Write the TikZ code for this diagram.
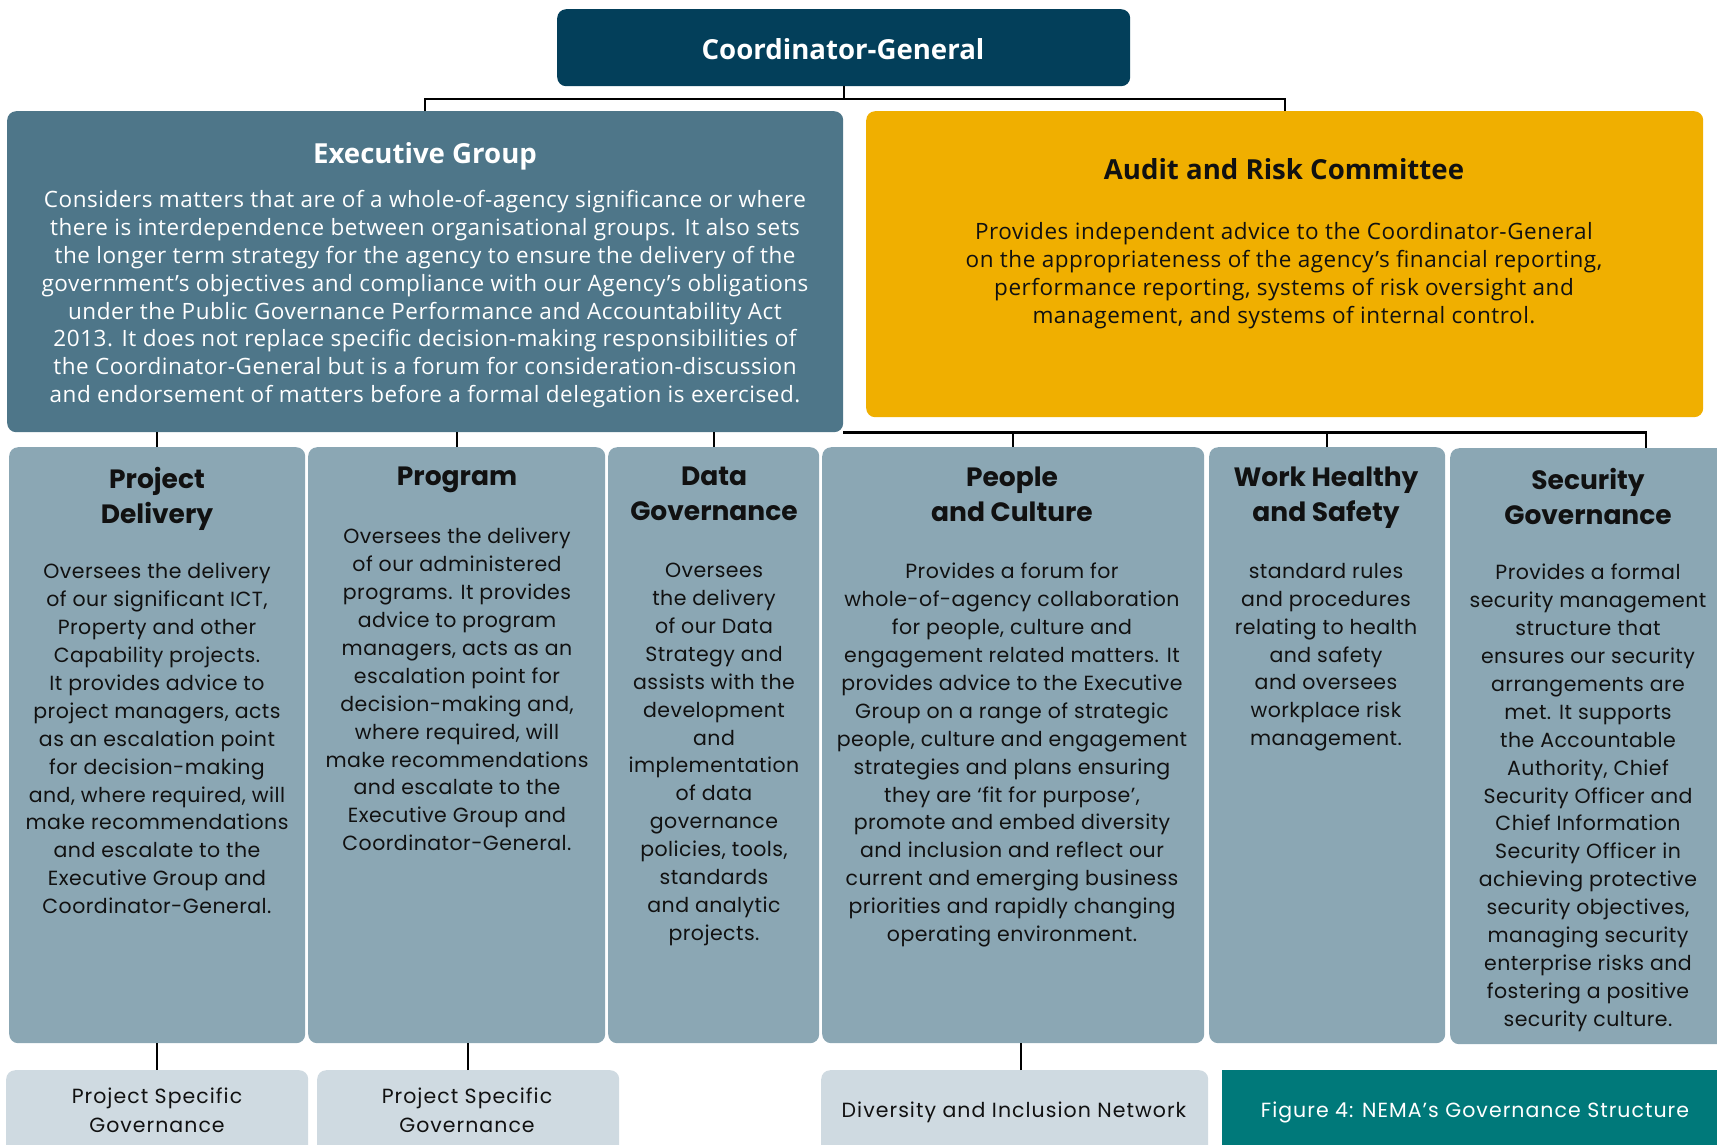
\documentclass[tikz,border=0pt]{standalone}
\usepackage{fontspec}
\newfontfamily\gw{Poppins}[LetterSpace=5]
\newfontfamily\gwb{Poppins}[LetterSpace=2.2]
\newfontfamily\gwt{Poppins}
\newfontfamily\gn{Open Sans}[LetterSpace=2.4]
\newfontfamily\gnt{Open Sans}
\definecolor{cgblue}{HTML}{033F5A}
\definecolor{exblue}{HTML}{4E7689}
\definecolor{gold}{HTML}{F0AF00}
\definecolor{colgrey}{HTML}{8BA7B4}
\definecolor{lightgrey}{HTML}{CFDAE1}
\definecolor{teal}{HTML}{00797A}
\definecolor{ink}{HTML}{111111}
\tikzset{
  box/.style={draw=none, rounded corners=9pt, inner sep=0pt, anchor=north west},
  conn/.style={draw=black, line width=2.2pt},
  coltitle/.style={anchor=north, inner sep=0pt, align=center, text=ink, font=\gwt\bfseries\fontsize{26.5}{35}\selectfont},
  colbody/.style={anchor=north, inner sep=0pt, align=center, text=ink, font=\gwb\fontsize{20.5}{27.9}\selectfont},
  exbody/.style={anchor=north, inner sep=0pt, align=center, font=\gn\fontsize{22.5}{27.9}\selectfont},
  extitle/.style={anchor=north, inner sep=0pt, align=center, font=\gnt\bfseries\fontsize{27.6}{32}\selectfont},
  botbody/.style={inner sep=0pt, align=center, text=ink, font=\gw\fontsize{20.5}{28.6}\selectfont},
}
\begin{document}
\begin{tikzpicture}[x=1pt,y=-1pt]
\useasboundingbox (0,0) rectangle (1717,1144);
% boxes
\node[box, fill=cgblue, minimum width=573pt, minimum height=77pt] (cg) at (557,9) {};
\node[text=white, font=\gnt\bfseries\fontsize{27.6}{32}\selectfont, inner sep=0pt] (cgt) at (843,49) {Coordinator-General};
\node[box, fill=exblue, minimum width=836pt, minimum height=321pt] (exec) at (7,111) {};
\node[box, fill=gold, minimum width=837pt, minimum height=306pt] (arc) at (866,111) {};
\node[box, fill=colgrey, minimum width=296pt, minimum height=596pt] (pd) at (9,447) {};
\node[box, fill=colgrey, minimum width=297pt, minimum height=596pt] (prog) at (308,447) {};
\node[box, fill=colgrey, minimum width=211pt, minimum height=596pt] (dg) at (608,447) {};
\node[box, fill=colgrey, minimum width=382pt, minimum height=596pt] (pc) at (822,447) {};
\node[box, fill=colgrey, minimum width=236pt, minimum height=596pt] (whs) at (1209,447) {};
\node[box, fill=colgrey, minimum width=276pt, minimum height=596pt] (sg) at (1450,448) {};
\node[box, fill=lightgrey, minimum width=302pt, minimum height=100pt] (psg1) at (6,1070) {};
\node[box, fill=lightgrey, minimum width=302pt, minimum height=100pt] (psg2) at (317,1070) {};
\node[box, fill=lightgrey, minimum width=387pt, minimum height=100pt] (din) at (821,1070) {};
\node[box, rounded corners=0pt, fill=teal, minimum width=500pt, minimum height=80pt] (fig) at (1222,1070) {};
% connectors
\draw[conn] (cg.south) -- ++(0,13);
\draw[conn] (exec.north) -- ++(0,-12) -| (arc.north);
\coordinate (sgtick) at (1646,448);
\draw[conn] (exec.south east) -| (sgtick);
\draw[conn] (pd.north) -- (pd.north |- exec.south);
\draw[conn] (prog.north) -- (prog.north |- exec.south);
\draw[conn] (dg.north) -- (dg.north |- exec.south);
\draw[conn] (pc.north) -- (pc.north |- exec.south);
\draw[conn] (whs.north) -- (whs.north |- exec.south);
\draw[conn] (pd.south) -- (psg1.north);
\draw[conn] (psg2.north) -- (psg2.north |- prog.south);
\coordinate (dintick) at ([xshift=6pt]din.north);
\draw[conn] (dintick) -- (dintick |- pc.south);
% texts
\node[extitle, text=white] (ext) at (425,142) {Executive Group};
\node[exbody, text=white] (exb) at (425,190) {Considers matters that are of a whole-of-agency significance or where\\
there is interdependence between organisational groups. It also sets\\
the longer term strategy for the agency to ensure the delivery of the\\
government’s objectives and compliance with our Agency’s obligations\\
under the Public Governance Performance and Accountability Act\\
2013. It does not replace specific decision-making responsibilities of\\
the Coordinator-General but is a forum for consideration-discussion\\
and endorsement of matters before a formal delegation is exercised.};
\node[extitle, text=ink] (arct) at (1284,158) {Audit and Risk Committee};
\node[exbody, text=ink] (arcb) at (1284,222) {Provides independent advice to the Coordinator-General\\
on the appropriateness of the agency’s financial reporting,\\
performance reporting, systems of risk oversight and\\
management, and systems of internal control.};
\node[coltitle] (pdt) at (157,467) {Project\\Delivery};
\node[colbody] (pdb) at (157,563) {Oversees the delivery\\ of our significant ICT,\\ Property and other\\ Capability projects.\\ It provides advice to\\ project managers, acts\\ as an escalation point\\ for decision-making\\ and, where required, will\\ make recommendations\\ and escalate to the\\ Executive Group and\\ Coordinator-General.};
\node[coltitle] (progt) at (457,467) {Program};
\node[colbody] (progb) at (457,528) {Oversees the delivery\\ of our administered\\ programs. It provides\\ advice to program\\ managers, acts as an\\ escalation point for\\ decision-making and,\\ where required, will\\ make recommendations\\ and escalate to the\\ Executive Group and\\ Coordinator-General.};
\node[coltitle] (dgt) at (714,467) {Data\\Governance};
\node[colbody] (dgb) at (714,563) {Oversees\\ the delivery\\ of our Data\\ Strategy and\\ assists with the\\ development\\ and\\ implementation\\ of data\\ governance\\ policies, tools,\\ standards\\ and analytic\\ projects.};
\node[coltitle] (pct) at (1012,467) {People\\and Culture};
\node[colbody] (pcb) at (1012,563) {Provides a forum for\\ whole-of-agency collaboration\\ for people, culture and\\ engagement related matters. It\\ provides advice to the Executive\\ Group on a range of strategic\\ people, culture and engagement\\ strategies and plans ensuring\\ they are ‘fit for purpose’,\\ promote and embed diversity\\ and inclusion and reflect our\\ current and emerging business\\ priorities and rapidly changing\\ operating environment.};
\node[coltitle] (whst) at (1326,467) {Work Healthy\\and Safety};
\node[colbody] (whsb) at (1326,563) {standard rules\\ and procedures\\ relating to health\\ and safety\\ and oversees\\ workplace risk\\ management.};
\node[coltitle] (sgt) at (1588,468) {Security\\Governance};
\node[colbody] (sgb) at (1588,564) {Provides a formal\\ security management\\ structure that\\ ensures our security\\ arrangements are\\ met. It supports\\ the Accountable\\ Authority, Chief\\ Security Officer and\\ Chief Information\\ Security Officer in\\ achieving protective\\ security objectives,\\ managing security\\ enterprise risks and\\ fostering a positive\\ security culture.};
\node[botbody] (psg1t) at (157,1110) {Project Specific\\Governance};
\node[botbody] (psg2t) at (467,1110) {Project Specific\\Governance};
\node[botbody] (dint) at (1014,1112) {Diversity and Inclusion Network};
\node[botbody, text=white] (figt) at (1475,1112) {Figure 4: NEMA’s Governance Structure};
\end{tikzpicture}
\end{document}
